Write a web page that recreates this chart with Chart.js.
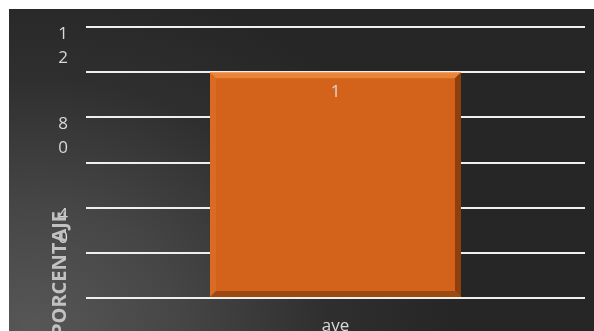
<!DOCTYPE html>
<html>
<head>
<meta charset="utf-8">
<script src="https://cdn.jsdelivr.net/npm/chart.js@4"></script>
<style>
  html, body { margin: 0; padding: 0; background: #ffffff; overflow: hidden; }
  #wrap {
    position: absolute; left: 9px; top: 9px; width: 585px; height: 322px;
    background: radial-gradient(ellipse 420px 360px at 4% 100%, #575757 0%, #464646 35%, #2f2f2f 70%, #262626 100%);
  }
</style>
</head>
<body>
<div id="wrap"><canvas id="chart"></canvas></div>
<script>
// data
const categories = ['ave'];
const values = [100];
const barLabels = ['1'];
const tickText = { 120: ['1', '2'], 80: ['8', '0'], 40: ['4', '0'] };
const yTitle = 'PORCENTAJE';

const orange = '#d3621a';
const light = '#d9d9d9';

// bevelled 3D look on the bar, drawn from the element the library placed
const bevel = {
  id: 'bevel',
  afterDatasetsDraw(chart) {
    const ctx = chart.ctx;
    chart.getDatasetMeta(0).data.forEach(function(bar, i) {
      const L = bar.x - bar.width / 2, R = bar.x + bar.width / 2;
      const T = bar.y, B = bar.base, b = 6;
      const poly = function(pts, col) {
        ctx.beginPath();
        ctx.moveTo(pts[0][0], pts[0][1]);
        pts.slice(1).forEach(function(p) { ctx.lineTo(p[0], p[1]); });
        ctx.closePath();
        ctx.fillStyle = col;
        ctx.fill();
      };
      ctx.save();
      poly([[L, T], [L + b, T + b], [L + b, B - b], [L, B]], '#da6b22');
      poly([[L, T], [R, T], [R - b, T + b], [L + b, T + b]], '#ea8438');
      poly([[R, T], [R, B], [R - b, B - b], [R - b, T + b]], '#8e400c');
      poly([[L, B], [R, B], [R - b, B - b], [L + b, B - b]], '#9c4811');
      ctx.fillStyle = '#f3a468';
      ctx.fillRect(L, T, R - L, 1);
      // value label
      ctx.fillStyle = light;
      ctx.font = '17px "Open Sans"';
      ctx.textAlign = 'center';
      ctx.textBaseline = 'middle';
      ctx.fillText(barLabels[i], bar.x, T + 20);
      ctx.restore();
    });
  }
};

// y axis title, placed low and running off the bottom like the original
const sideTitle = {
  id: 'sideTitle',
  afterDraw(chart) {
    const ctx = chart.ctx;
    ctx.save();
    ctx.translate(51, 202);
    ctx.rotate(-Math.PI / 2);
    ctx.fillStyle = '#c2c2c2';
    ctx.font = 'bold 20px "Open Sans"';
    ctx.textAlign = 'right';
    ctx.textBaseline = 'middle';
    ctx.fillText(yTitle, 0, 0);
    ctx.restore();
  }
};

new Chart(document.getElementById('chart'), {
  type: 'bar',
  data: {
    labels: categories,
    datasets: [{
      data: values,
      backgroundColor: orange,
      categoryPercentage: 0.503,
      barPercentage: 1
    }]
  },
  plugins: [bevel, sideTitle],
  options: {
    responsive: true,
    maintainAspectRatio: false,
    animation: false,
    layout: { padding: { top: 18, right: 9, left: 0, bottom: 0 } },
    plugins: { legend: { display: false }, tooltip: { enabled: false } },
    scales: {
      x: {
        grid: { display: false },
        border: { display: false },
        ticks: { color: light, font: { family: 'Open Sans', size: 17 }, padding: 10, maxRotation: 0 },
        afterFit: function(s) { s.height = 33; s.paddingLeft = 0; s.paddingRight = 0; }
      },
      y: {
        min: 0,
        max: 120,
        grid: { color: '#efefef', lineWidth: 2, drawTicks: false },
        border: { display: false },
        ticks: {
          stepSize: 20,
          autoSkip: false,
          color: light,
          font: { family: 'Open Sans', size: 17, lineHeight: 1.4 },
          padding: 18,
          labelOffset: 19,
          callback: function(v) { return tickText[v] || ''; }
        },
        afterFit: function(s) { s.width = 77; s.paddingTop = 0; s.paddingBottom = 0; }
      }
    }
  }
});
</script>
</body>
</html>
